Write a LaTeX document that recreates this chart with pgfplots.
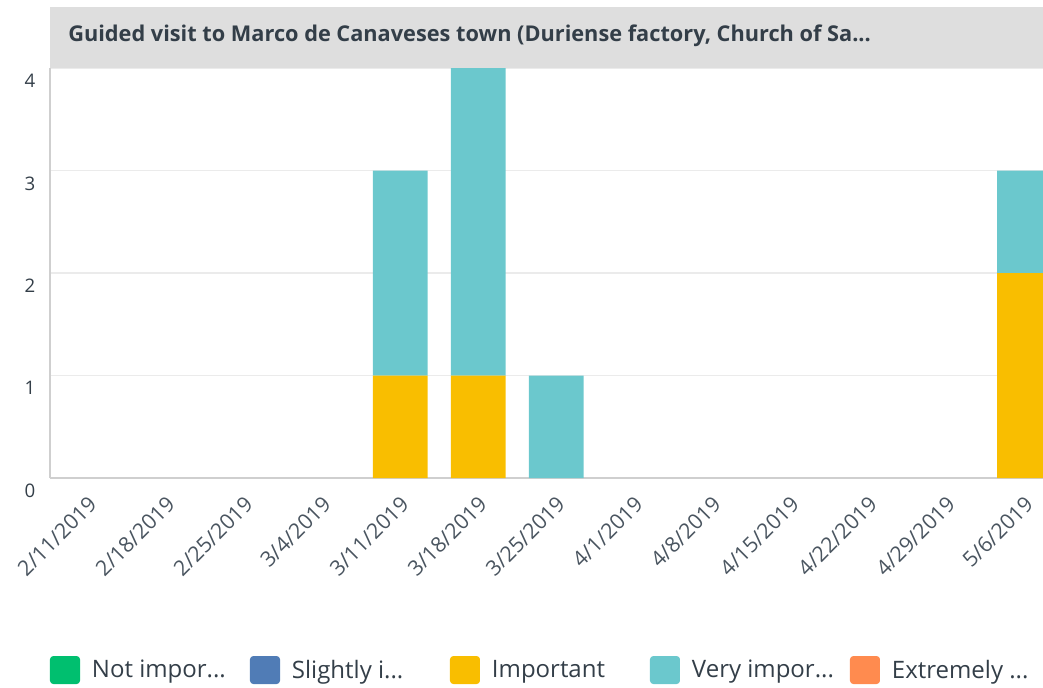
\documentclass[border=0pt]{standalone}
\usepackage{fontspec}
\setmainfont{Open Sans}
\usepackage{pgfplots}
\pgfplotsset{compat=1.18}
\definecolor{cgreen}{HTML}{00BF6F}
\definecolor{cblue}{HTML}{507CB6}
\definecolor{cyellow}{HTML}{F9BE00}
\definecolor{cteal}{HTML}{6BC8CD}
\definecolor{corange}{HTML}{FF8B4F}
\definecolor{ctext}{HTML}{333E48}
\definecolor{ctick}{HTML}{4A5560}
\definecolor{cbar}{HTML}{DEDEDE}
\definecolor{cgrid}{HTML}{EBEBEB}
\definecolor{caxis}{HTML}{CFCFCF}
\pgfplotsset{
  mylegend/.style={legend image code/.code={\fill[##1, draw=none, rounded corners=2.5pt] (0pt,-10.5pt) rectangle (22.5pt,10.5pt);}},
}
\begin{document}
\begin{tikzpicture}
\path[use as bounding box] (0,0) rectangle (782.25pt,515.25pt);
\begin{axis}[
  at={(37.5pt,156.75pt)}, anchor=south west,
  scale only axis, width=744.75pt, height=307.5pt,
  ybar stacked, bar width=0.70,
  xmin=-0.488, xmax=12.237, ymin=0, ymax=4,
  xtick={0,...,12},
  xticklabels={2/11/2019,2/18/2019,2/25/2019,3/4/2019,3/11/2019,3/18/2019,3/25/2019,4/1/2019,4/8/2019,4/15/2019,4/22/2019,4/29/2019,5/6/2019},
  ytick={0,...,4},
  axis x line*=bottom, axis y line*=left,
  x axis line style={draw=caxis, line width=1.2pt},
  y axis line style={draw=caxis, line width=0.8pt},
  major tick length=0pt,
  ymajorgrids, grid style={draw=cgrid, line width=0.8pt},
  /pgf/number format/assume math mode=true,
  yticklabel style={anchor=north, xshift=-15pt, yshift=-1pt, font=\fontsize{14}{16}\selectfont, text=ctext},
  xticklabel style={rotate=45, anchor=north east, xshift=-6pt, yshift=-5pt, font=\fontsize{16}{18}\selectfont, text=ctick},
  legend style={at={(axis description cs:0,-0.4683)}, anchor=west, draw=none, fill=none, inner sep=0pt, outer sep=0pt,
    /tikz/every even column/.style={column sep=0pt},
    nodes={inner sep=0pt, font=\fontsize{18}{21}\selectfont, text=ctext}},
  legend columns=5, legend cell align=left,
]
\addplot[fill=cgreen, draw=none, mylegend] coordinates {(0,0) (1,0) (2,0) (3,0) (4,0) (5,0) (6,0) (7,0) (8,0) (9,0) (10,0) (11,0) (12,0)};
\addlegendentry{\hspace{9pt}\makebox[118.5pt][l]{Not impor...}}
\addplot[fill=cblue, draw=none, mylegend] coordinates {(0,0) (1,0) (2,0) (3,0) (4,0) (5,0) (6,0) (7,0) (8,0) (9,0) (10,0) (11,0) (12,0)};
\addlegendentry{\hspace{9pt}\makebox[118.5pt][l]{Slightly i...}}
\addplot[fill=cyellow, draw=none, mylegend] coordinates {(0,0) (1,0) (2,0) (3,0) (4,1) (5,1) (6,0) (7,0) (8,0) (9,0) (10,0) (11,0) (12,2)};
\addlegendentry{\hspace{9pt}\makebox[118.5pt][l]{Important}}
\addplot[fill=cteal, draw=none, mylegend] coordinates {(0,0) (1,0) (2,0) (3,0) (4,2) (5,3) (6,1) (7,0) (8,0) (9,0) (10,0) (11,0) (12,1)};
\addlegendentry{\hspace{9pt}\makebox[118.5pt][l]{Very impor...}}
\addplot[fill=corange, draw=none, mylegend] coordinates {(0,0) (1,0) (2,0) (3,0) (4,0) (5,0) (6,0) (7,0) (8,0) (9,0) (10,0) (11,0) (12,0)};
\addlegendentry{\hspace{9pt}\makebox[118.5pt][l]{Extremely ...}}
\end{axis}
\fill[cbar] (37.5pt,464.25pt) rectangle (782.25pt,510pt);
\node[anchor=west, font=\bfseries\fontsize{16.3}{19}\selectfont, text=ctext, inner sep=0pt] at (51pt,488.25pt) {Guided visit to Marco de Canaveses town (Duriense factory, Church of Sa...};
\end{tikzpicture}
\end{document}
